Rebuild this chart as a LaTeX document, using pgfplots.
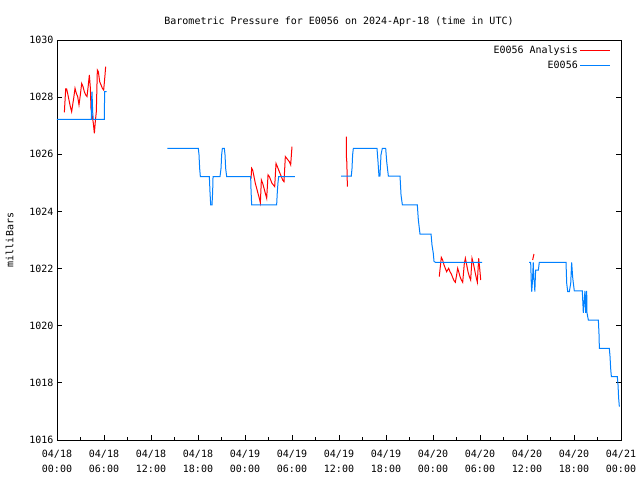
\documentclass[border=0pt]{standalone}
\usepackage{pgfplots}
\pgfplotsset{compat=1.18}
\usepackage{fontspec}
\setmainfont{DejaVu Sans Mono}
\definecolor{anared}{RGB}{255,0,0}
\definecolor{obsblue}{RGB}{0,128,255}
\begin{document}
\begin{tikzpicture}
\useasboundingbox (0,0) rectangle (640pt,480pt);
\begin{axis}[
  at={(57pt,40pt)}, anchor=south west,
  width=564pt, height=400pt, scale only axis,
  xmin=0, xmax=72, ymin=1016, ymax=1030,
  xtick={0,6,...,72},
  xticklabels={04/18\\00:00,04/18\\06:00,04/18\\12:00,04/18\\18:00,04/19\\00:00,04/19\\06:00,04/19\\12:00,04/19\\18:00,04/20\\00:00,04/20\\06:00,04/20\\12:00,04/20\\18:00,04/21\\00:00},
  minor xtick={3,9,...,69},
  ytick={1016,1018,...,1030},
  xtick pos=lower, ytick pos=both,
  tick align=inside,
  major tick length=5pt, minor tick length=3pt,
  tick style={black, line width=0.8pt},
  axis line style={black, line width=0.8pt},
  /pgf/number format/1000 sep={},
  /pgf/number format/assume math mode=true,
  ticklabel style={font=\fontsize{10}{14}\selectfont},
  xticklabel style={align=center, yshift=-7pt, font=\fontsize{10}{15}\selectfont},
  title={Barometric Pressure for E0056 on 2024-Apr-18 (time in UTC)},
  title style={font=\fontsize{10}{12}\selectfont, yshift=4pt},
  ylabel={milliBars},
  ylabel shift=9pt,
  ylabel style={font=\fontsize{10}{12}\selectfont},
  legend style={at={(rel axis cs:1,1)}, anchor=north east, draw=none, fill=none,
    font=\fontsize{10}{12}\selectfont, legend cell align=right, row sep=1.5pt,
    xshift=-7pt, yshift=-2pt},
  legend plot pos=right,
  legend image code/.code={\draw[mark repeat=2,mark phase=2,#1] plot coordinates {(0pt,0pt)(15pt,0pt)(30pt,0pt)};},
  no markers,
]
% Analysis (red)
\addplot[anared, line width=1pt, forget plot] coordinates {
(0.94,1027.47)(1.11,1028.29)(1.23,1028.29)(1.36,1028.13)(1.53,1027.90)(1.70,1027.67)(1.87,1027.49)(2.00,1027.73)(2.13,1027.96)(2.30,1028.31)(2.47,1028.13)(2.64,1028.02)(2.81,1027.73)(2.98,1028.08)(3.15,1028.48)(3.32,1028.37)(3.49,1028.19)(3.66,1028.08)(3.83,1028.02)(4.00,1028.43)(4.13,1028.78)(4.26,1028.31)(4.34,1027.61)(4.51,1027.32)(4.64,1027.08)(4.77,1026.73)(4.89,1027.14)(5.02,1027.49)(5.15,1028.95)(5.28,1028.89)(5.45,1028.54)(5.62,1028.43)(5.79,1028.31)(5.96,1028.25)(6.13,1028.78)(6.21,1029.07)
};
\addplot[anared, line width=1pt, forget plot] coordinates {
(24.77,1025.15)(24.85,1025.51)(24.98,1025.45)(25.15,1025.22)(25.32,1024.98)(25.49,1024.81)(25.66,1024.63)(25.83,1024.46)(25.96,1024.30)(26.09,1025.10)(26.26,1024.98)(26.43,1024.81)(26.60,1024.63)(26.77,1024.46)(26.94,1025.28)(27.11,1025.22)(27.28,1025.10)(27.45,1024.98)(27.62,1024.93)(27.79,1024.87)(27.96,1025.68)(28.13,1025.57)(28.30,1025.45)(28.47,1025.33)(28.64,1025.22)(28.81,1025.10)(28.98,1025.04)(29.15,1025.92)(29.32,1025.86)(29.49,1025.80)(29.66,1025.74)(29.83,1025.63)(30.00,1026.27)
};
\addplot[anared, line width=1pt, forget plot] coordinates {
(36.93,1026.62)(36.96,1025.80)(37.00,1025.74)(37.07,1024.87)
};
\addplot[anared, line width=1pt, forget plot] coordinates {
(48.80,1021.72)(49.06,1022.39)(49.23,1022.30)(49.40,1022.13)(49.57,1022.01)(49.74,1021.89)(49.87,1021.95)(50.00,1022.01)(50.17,1021.89)(50.34,1021.81)(50.51,1021.69)(50.68,1021.58)(50.85,1021.52)(51.02,1021.78)(51.15,1022.01)(51.28,1021.89)(51.45,1021.72)(51.62,1021.60)(51.79,1021.52)(52.00,1022.18)(52.13,1022.36)(52.30,1022.13)(52.47,1021.89)(52.64,1021.72)(52.81,1021.60)(52.98,1022.36)(53.15,1022.18)(53.32,1021.95)(53.49,1021.72)(53.66,1021.52)(53.83,1022.36)(53.96,1022.01)(54.09,1021.60)
};
\addplot[anared, line width=1pt, forget plot] coordinates {
(60.72,1022.30)(60.89,1022.51)
};
% Observations (blue)
\addplot[obsblue, line width=1pt, forget plot] coordinates {
(0,1027.22)(4.38,1027.22)(4.42,1027.96)(4.47,1028.19)(4.55,1027.50)(4.63,1027.22)(6.04,1027.22)(6.08,1028.19)(6.34,1028.19)
};
\addplot[obsblue, line width=1pt, forget plot] coordinates {
(14.09,1026.21)(18.04,1026.21)(18.13,1025.98)(18.21,1025.51)(18.30,1025.22)(19.45,1025.22)(19.53,1024.69)(19.62,1024.23)(19.79,1024.23)(19.87,1024.69)(19.92,1025.22)(20.81,1025.22)(20.94,1025.51)(21.02,1025.98)(21.11,1026.21)(21.36,1026.21)(21.45,1025.98)(21.53,1025.51)(21.66,1025.22)(24.72,1025.22)(24.77,1024.75)(24.85,1024.23)(28.04,1024.23)(28.13,1024.70)(28.21,1025.00)(28.30,1025.22)(30.38,1025.22)
};
\addplot[obsblue, line width=1pt, forget plot] coordinates {
(36.26,1025.24)(37.57,1025.24)(37.66,1025.50)(37.74,1025.98)(37.83,1026.21)(40.85,1026.21)(40.98,1025.74)(41.10,1025.24)(41.23,1025.24)(41.36,1025.98)(41.53,1026.21)(41.96,1026.21)(42.09,1025.74)(42.30,1025.24)(43.79,1025.24)(43.92,1024.57)(44.09,1024.23)(46.00,1024.23)(46.13,1023.70)(46.34,1023.21)(47.75,1023.21)(47.87,1022.83)(48.04,1022.53)(48.13,1022.25)(48.30,1022.22)(54.26,1022.22)
};
\addplot[obsblue, line width=1pt, forget plot] coordinates {
(60.26,1022.22)(60.47,1022.22)(60.50,1021.95)(60.55,1021.48)(60.60,1021.19)(60.68,1021.48)(60.80,1022.22)(60.85,1021.70)(60.95,1021.48)(61.00,1021.19)(61.10,1021.95)(61.45,1021.95)(61.57,1022.22)(64.98,1022.22)(65.07,1021.48)(65.20,1021.19)(65.40,1021.19)(65.58,1021.48)(65.70,1022.22)(65.83,1021.70)(65.92,1021.48)(66.04,1021.22)(67.06,1021.22)(67.19,1020.45)(67.40,1021.22)(67.49,1020.45)(67.62,1021.22)(67.66,1020.45)(67.83,1020.20)(69.11,1020.20)(69.19,1019.73)(69.24,1019.21)(70.51,1019.21)(70.60,1018.92)(70.68,1018.51)(70.77,1018.22)(71.53,1018.22)(71.62,1017.93)(71.70,1017.46)(71.79,1017.17)
};
\addlegendimage{color=anared, line width=1pt}
\addlegendentry{E0056 Analysis}
\addlegendimage{color=obsblue, line width=1pt}
\addlegendentry{E0056}
\end{axis}
\end{tikzpicture}
\end{document}
